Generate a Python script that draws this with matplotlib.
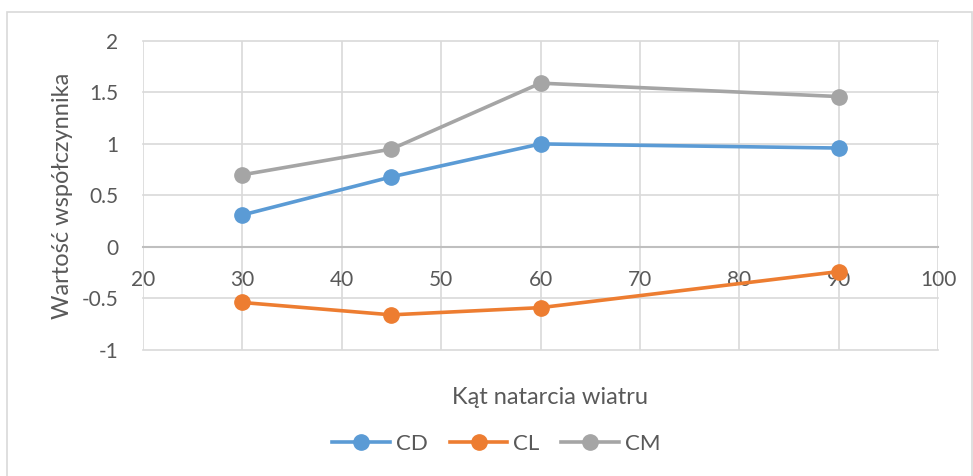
import matplotlib
matplotlib.use('Agg')
import matplotlib.pyplot as plt

# dane
katy = [30, 45, 60, 90]
cd = [0.31, 0.68, 1.00, 0.96]
cl = [-0.54, -0.66, -0.59, -0.24]
cm = [0.70, 0.95, 1.59, 1.46]

plt.rcParams['font.family'] = ['Lato', 'DejaVu Sans']
szary_tekst = '#595959'

fig = plt.figure(figsize=(9.73, 4.76), dpi=100)
ax = fig.add_axes([0.147, 0.265, 0.817, 0.649])

ax.plot(katy, cd, color='#5B9BD5', lw=2.6, marker='o', ms=11, label='CD', zorder=3)
ax.plot(katy, cl, color='#ED7D31', lw=2.6, marker='o', ms=11, label='CL', zorder=3)
ax.plot(katy, cm, color='#A5A5A5', lw=2.6, marker='o', ms=11, label='CM', zorder=3)

ax.set_xlim(20, 100)
ax.set_ylim(-1, 2)
ax.set_xticks(range(20, 101, 10))
ax.set_yticks([-1, -0.5, 0, 0.5, 1, 1.5, 2])
ax.set_yticklabels(['-1', '-0.5', '0', '0.5', '1', '1.5', '2'])

ax.grid(True, color='#D9D9D9', lw=1.2)
for l in ax.get_xgridlines() + ax.get_ygridlines():
    l.set_clip_on(False)
ax.set_axisbelow(True)

for s in ['top', 'right', 'left']:
    ax.spines[s].set_visible(False)
ax.spines['bottom'].set_position(('data', 0))
ax.spines['bottom'].set_color('#BFBFBF')
ax.spines['bottom'].set_linewidth(1.5)
ax.spines['bottom'].set_zorder(2)

ax.tick_params(axis='both', length=0, labelsize=15, colors=szary_tekst)
ax.tick_params(axis='x', pad=17)
ax.tick_params(axis='y', pad=18)

ax.set_ylabel('Wartość współczynnika', fontsize=17, color=szary_tekst, labelpad=6)
fig.text(0.565, 0.165, 'Kąt natarcia wiatru', fontsize=17, color=szary_tekst,
         ha='center', va='center')

fig.legend(loc='center', bbox_to_anchor=(0.51, 0.067), ncol=3, frameon=False,
           fontsize=16, labelcolor=szary_tekst, handlelength=2.6, columnspacing=1.0,
           handletextpad=0.25)

# ramka wykresu
fig.patches.append(plt.Rectangle((0.007, -0.05), 0.992, 1.025, transform=fig.transFigure,
                                 fill=False, edgecolor='#D9D9D9', lw=1.2))

fig.savefig('out.png', dpi=100)
